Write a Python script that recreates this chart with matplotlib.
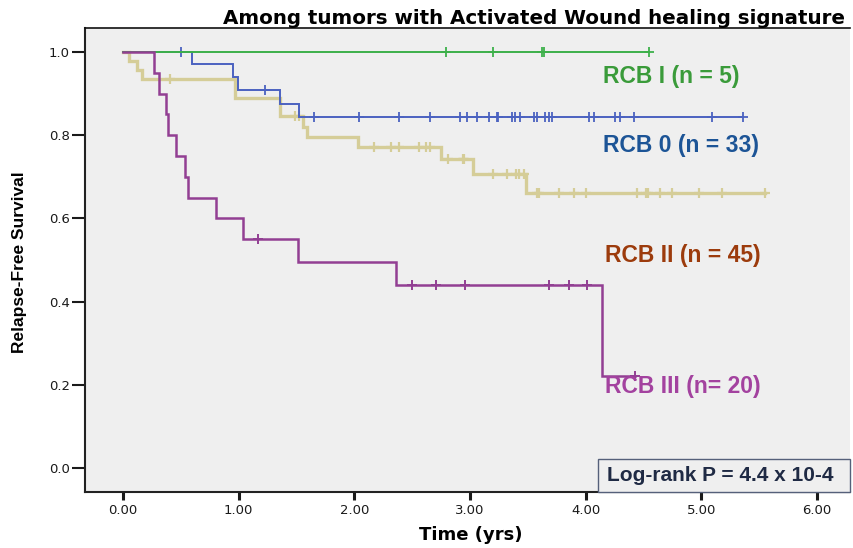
import matplotlib
matplotlib.use('Agg')
import matplotlib.pyplot as plt
from matplotlib.patches import Rectangle
import numpy as np

# Kaplan-Meier steps: (time in yrs, survival)
rcb1_t = [0.0]
rcb1_s = [1.0]
rcb1_cens = [2.79, 3.20, 3.62, 3.64, 4.55]

rcb0_t = [0.0, 0.60, 0.95, 0.99, 1.36, 1.52]
rcb0_s = [1.0, 0.970, 0.939, 0.909, 0.876, 0.844]
rcb0_cens = [0.50, 1.23, 1.65, 2.04, 2.39, 2.65, 2.91, 2.97, 3.06, 3.16, 3.23,
             3.24, 3.36, 3.39, 3.43, 3.55, 3.58, 3.65, 3.68, 3.71, 4.03, 4.07,
             4.25, 4.30, 4.42, 5.09, 5.36]

rcb2_t = [0.0, 0.055, 0.12, 0.16, 0.97, 1.36, 1.56, 1.59, 2.03, 2.75, 3.03, 3.48]
rcb2_s = [1.0, 0.978, 0.956, 0.935, 0.890, 0.845, 0.820, 0.796, 0.771, 0.742,
          0.707, 0.660]
rcb2_cens = [0.41, 1.49, 1.52, 2.17, 2.32, 2.39, 2.56, 2.62, 2.65, 2.81, 2.94,
             2.95, 3.20, 3.32, 3.40, 3.42, 3.47, 3.58, 3.60, 3.77, 3.90, 4.00,
             4.44, 4.52, 4.54, 4.64, 4.75, 4.98, 5.18, 5.55]

rcb3_t = [0.0, 0.27, 0.31, 0.37, 0.39, 0.46, 0.54, 0.56, 0.80, 1.04, 1.51, 2.36, 4.14]
rcb3_s = [1.0, 0.95, 0.90, 0.85, 0.80, 0.75, 0.70, 0.65, 0.60, 0.551, 0.496,
          0.441, 0.220]
rcb3_cens = [1.17, 2.50, 2.71, 2.96, 3.68, 3.86, 4.01, 4.43]

labels = ['RCB I (n = 5)', 'RCB 0 (n = 33)', 'RCB II (n = 45)', 'RCB III (n= 20)']
xticks = [0, 1, 2, 3, 4, 5, 6]
yticks = [0.0, 0.2, 0.4, 0.6, 0.8, 1.0]


def km(ax, t, s, cens, color, lw, z, mew):
    t = list(t)
    s = list(s)
    end = max(max(cens), t[-1])
    t.append(end)
    s.append(s[-1])
    ax.step(t, s, where='post', color=color, lw=lw, zorder=z, solid_joinstyle='miter')
    idx = np.searchsorted(t[:-1], cens, side='right') - 1
    cy = np.array(s)[idx]
    ax.plot(cens, cy, ls='none', marker='+', ms=7.5, mew=mew, color=color, zorder=z)


fig = plt.figure(figsize=(8.54, 5.48), dpi=100)
fig.patch.set_facecolor('white')
ax = fig.add_axes([85/854, 1-492/548, 765/854, 464/548])
ax.set_facecolor('#efefef')

km(ax, rcb2_t, rcb2_s, rcb2_cens, '#d5cd98', 2.4, 2, 1.6)
km(ax, rcb0_t, rcb0_s, rcb0_cens, '#4b62c0', 1.4, 3, 1.3)
km(ax, rcb1_t, rcb1_s, rcb1_cens, '#3db04a', 1.4, 4, 1.3)
km(ax, rcb3_t, rcb3_s, rcb3_cens, '#923f93', 1.8, 5, 1.4)

ax.set_xlim(-0.3285, 6.285)
ax.set_ylim(-0.0577, 1.0577)

ax.set_xticks(xticks)
ax.set_xticklabels(['%.2f' % v for v in xticks])
ax.set_yticks(yticks)
ax.set_yticklabels(['%.1f' % v for v in yticks])
ax.tick_params(axis='x', length=6, width=2.2, pad=3, labelsize=9.5,
               colors='#1a1a1a', direction='out')
ax.tick_params(axis='y', length=9.5, width=1.5, pad=1.5, labelsize=9.5,
               colors='#1a1a1a', direction='out')

for side in ['left', 'bottom']:
    ax.spines[side].set_linewidth(1.5)
    ax.spines[side].set_color('#222222')
ax.spines['top'].set_linewidth(1.2)
ax.spines['top'].set_color('#111111')
ax.spines['right'].set_visible(False)

ax.set_xlabel('Time (yrs)', fontsize=13, fontweight='bold')
ax.xaxis.set_label_coords((471-85)/765, (492-535)/464)
ax.xaxis.label.set_va('center')
ax.set_ylabel('Relapse-Free Survival', fontsize=12.5, fontweight='bold',
              family=['Liberation Sans Narrow', 'Liberation Sans'])
ax.yaxis.set_label_coords((20-85)/765, (492-262)/464)
ax.yaxis.label.set_va('center')

fig.text(223/854, 1-18/548, 'Among tumors with Activated Wound healing signature',
         ha='left', va='center', fontsize=14.3, fontweight='bold')

lab_colors = ['#3a9b3a', '#1c5496', '#9c3b0c', '#a3429f']
lab_x = [4.147, 4.147, 4.167, 4.167]
lab_y = [0.941, 0.776, 0.512, 0.195]
for txt, c, x, y in zip(labels, lab_colors, lab_x, lab_y):
    ax.text(x, y, txt, color=c, fontsize=16.5, fontweight='bold',
            family='Liberation Sans', ha='left', va='center', zorder=6)

ax.add_patch(Rectangle((0.6706, 0.0), 0.3294, 0.0711, transform=ax.transAxes,
                       facecolor='#efefef', edgecolor='#55607a', lw=1.0,
                       zorder=7, clip_on=False))
ax.text(0.682, 0.0345, 'Log-rank P = 4.4 x 10-4', transform=ax.transAxes,
        ha='left', va='center', fontsize=15, fontweight='bold',
        family='Liberation Sans', color='#1f2a44', zorder=8)

fig.savefig('out.png', dpi=100)
